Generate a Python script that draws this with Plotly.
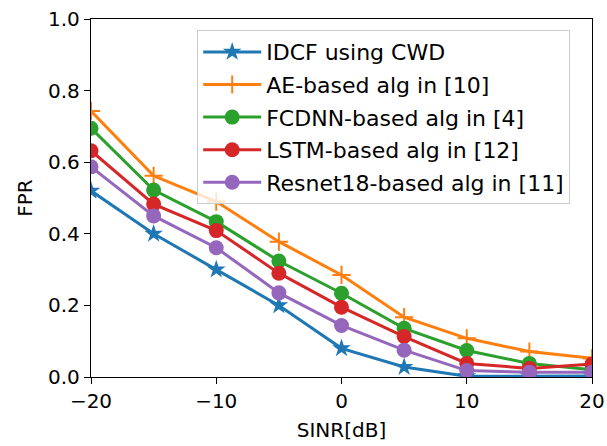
import plotly.graph_objects as go

sinr = [-20, -15, -10, -5, 0, 5, 10, 15, 20]
idcf = [0.52, 0.40, 0.30, 0.20, 0.08, 0.028, 0.002, 0.002, 0.003]
ae = [0.743, 0.562, 0.49, 0.378, 0.285, 0.167, 0.108, 0.071, 0.052]
fcdnn = [0.695, 0.522, 0.434, 0.324, 0.234, 0.136, 0.074, 0.038, 0.02]
lstm = [0.632, 0.483, 0.409, 0.29, 0.195, 0.113, 0.038, 0.024, 0.036]
resnet = [0.587, 0.45, 0.361, 0.235, 0.144, 0.075, 0.018, 0.013, 0.013]

names = ["IDCF using CWD", "AE-based alg in [10]", "FCDNN-based alg in [4]",
         "LSTM-based alg in [12]", "Resnet18-based alg in [11]"]
series = [idcf, ae, fcdnn, lstm, resnet]
colors = ["#1f77b4", "#ff7f0e", "#2ca02c", "#d62728", "#9467bd"]
symbols = ["star", "cross-thin", "circle", "circle", "circle"]
sizes = [14, 13, 15, 15, 15]

fig = go.Figure()
for i, (name, ys, c, s, sz) in enumerate(zip(names, series, colors, symbols, sizes)):
    marker = dict(symbol=s, size=sz, color=c)
    if s == "cross-thin":
        marker["line"] = dict(color=c, width=2)
    else:
        marker["line"] = dict(width=0)
    fig.add_trace(go.Scatter(x=sinr, y=ys, mode="lines+markers", name=name,
                             legendgroup=f"g{i}",
                             line=dict(color=c, width=3), marker=marker))

font = "DejaVu Sans"
axis_common = dict(showline=True, linecolor="black", linewidth=1.3, mirror=True,
                   ticks="outside", ticklen=6, tickwidth=1.3, tickcolor="black",
                   showgrid=False, zeroline=False, automargin=False,
                   tickfont=dict(family=font, size=20, color="black"))
fig.update_xaxes(range=[-20, 20], tickvals=[-20, -10, 0, 10, 20],
                 ticktext=["\u221220", "\u221210", "0", "10", "20"],
                 title=dict(text="SINR[dB]", font=dict(family=font, size=20, color="black"), standoff=10),
                 **axis_common)
fig.update_yaxes(range=[0, 1.0], tickvals=[0, 0.2, 0.4, 0.6, 0.8, 1.0],
                 ticktext=["0.0", "0.2", "0.4", "0.6", "0.8", "1.0"],
                 title=dict(text="FPR", font=dict(family=font, size=20, color="black"), standoff=10),
                 **axis_common)
fig.update_layout(
    width=607, height=446,
    margin=dict(l=91, r=15, t=19, b=69),
    plot_bgcolor="white", paper_bgcolor="white",
    font=dict(family=font, size=20, color="black"),
    legend=dict(x=0.212, y=0.969, xanchor="left", yanchor="top",
                bgcolor="rgba(255,255,255,0.8)", bordercolor="#cccccc", borderwidth=1,
                font=dict(family=font, size=22, color="black"),
                itemwidth=58, tracegroupgap=1),
)
fig.write_html("out.html")
